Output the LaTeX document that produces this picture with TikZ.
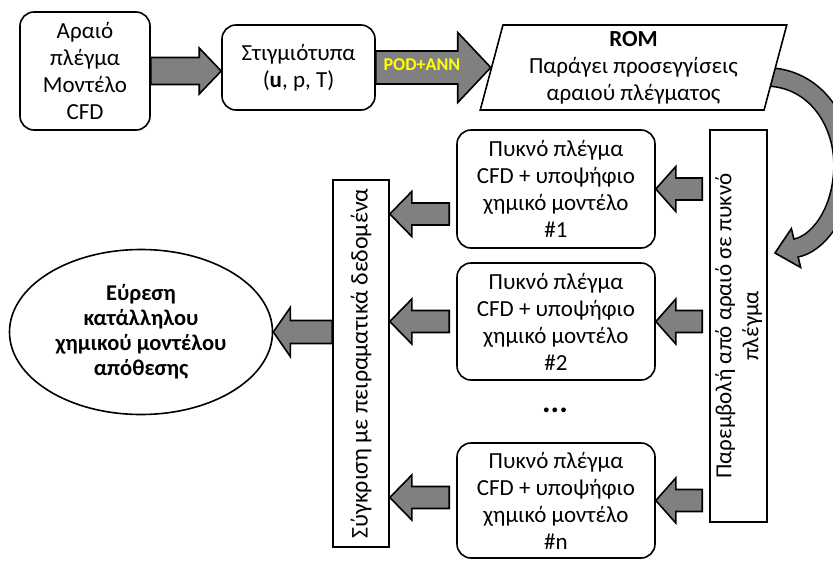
\documentclass[tikz,border=0pt]{standalone}
\usepackage{fontspec}
\setmainfont{Carlito}
\usetikzlibrary{shapes.geometric,calc,backgrounds}

\definecolor{arrowgray}{RGB}{128,128,128}
\definecolor{podyellow}{RGB}{255,255,0}

\tikzset{
  box/.style={draw, line width=1.6pt, rounded corners=14pt, fill=white, align=center, inner sep=2pt},
  bar/.style={draw, line width=1.6pt, fill=white, align=center, rotate=90, inner sep=2pt},
  fat/.style={draw, fill=arrowgray, line width=1.6pt, line join=miter},
}

% block arrow: shaft half width, head half width, head length, from, to
\newcommand{\fatarrow}[5]{%
  \path ($(#5)!#3!(#4)$) coordinate (fatbase);
  \draw[fat] ($(#4)!#1!90:(#5)$) -- ($(fatbase)!#1!-90:(#4)$) -- ($(fatbase)!#2!-90:(#4)$)
    -- (#5) -- ($(fatbase)!#2!90:(#4)$) -- ($(fatbase)!#1!90:(#4)$) -- ($(#4)!#1!-90:(#5)$) -- cycle;
}

\begin{document}
\begin{tikzpicture}[x=1pt,y=-1pt,font=\fontsize{23}{27}\selectfont]
  \useasboundingbox (0,0) rectangle (833,560);

  \node[box, minimum width=130pt, minimum height=118pt] (sparse) at (85,71) {Αραιό\\πλέγμα\\Μοντέλο\\CFD};
  \node[box, minimum width=153pt, minimum height=85pt] (snap) at (298.5,67.5) {Στιγμιότυπα\\(\textbf{u}, p, T)};
  \node[trapezium, trapezium left angle=76, trapezium right angle=104, trapezium stretches=true,
        draw, line width=1.6pt, fill=white, align=center, inner sep=0pt,
        minimum width=307pt, minimum height=85pt] (rom) at (633.5,67.5)
        {\textbf{ROM}\\Παράγει προσεγγίσεις\\αραιού πλέγματος};

  \node[bar, minimum width=392pt, minimum height=57pt] (interp) at (738.5,326) {Παρεμβολή από αραιό σε πυκνό\\πλέγμα};

  \node[box, minimum width=198pt, minimum height=118pt] (cand1) at (556,189) {Πυκνό πλέγμα\\CFD + υποψήφιο\\χημικό μοντέλο\\\#1};
  \node[box, minimum width=198pt, minimum height=117pt] (cand2) at (556,321.5) {Πυκνό πλέγμα\\CFD + υποψήφιο\\χημικό μοντέλο\\\#2};
  \node (dots) at (555,410) {\fontsize{32}{32}\selectfont\textbf{...}};
  \node[box, minimum width=198pt, minimum height=115pt] (candn) at (556,500.5) {Πυκνό πλέγμα\\CFD + υποψήφιο\\χημικό μοντέλο\\\#n};

  \node[bar, minimum width=367pt, minimum height=56pt, font=\fontsize{24}{28}\selectfont] (compare) at (361,363.5) {Σύγκριση με πειραματικά δεδομένα};

  \node[ellipse, draw, line width=1.6pt, align=center, inner sep=0pt,
        font=\fontsize{22.5}{25}\selectfont\bfseries,
        minimum width=263pt, minimum height=165pt] (found) at (141,332)
        {Εύρεση\\κατάλληλου\\χημικού μοντέλου\\απόθεσης};

  % top row
  \coordinate (snapin) at (sparse.east -| snap.west);
  \fatarrow{13.5pt}{23pt}{22pt}{sparse.east}{snapin}
  \coordinate (romin) at (snap.east -| rom.west);
  \fatarrow{16.5pt}{35pt}{33pt}{snap.east}{romin}
  \node[font=\fontsize{18}{20}\selectfont\bfseries, text=podyellow] (podann) at (422,65) {POD+ANN};

  % rom -> interpolation
  \coordinate (bendfrom) at (770,77);
  \coordinate (bendbase) at (796,248);
  \coordinate (bendtip) at (775,253);
  \begin{scope}[on background layer]
    \draw[line width=20pt] (bendfrom) .. controls (818,80) and (845,125) .. (843,170)
      .. controls (841,215) and (817,244) .. (bendbase);
    \draw[fat] ($(bendbase)!20pt!90:(bendtip)$) -- (bendtip) -- ($(bendbase)!20pt!-90:(bendtip)$) -- cycle;
    \draw[line width=16.8pt, arrowgray] (bendfrom) .. controls (818,80) and (845,125) .. (843,170)
      .. controls (841,215) and (817,244) .. (bendbase) -- ($(bendbase)!2pt!(bendtip)$);
  \end{scope}

  % interpolation -> candidates
  \coordinate (toc1) at ($(interp.north |- cand1.east)+(-7,0)$);
  \coordinate (toc2) at ($(interp.north |- cand2.east)+(-7,0)$);
  \coordinate (tocn) at ($(interp.north |- candn.east)+(-7,0)$);
  \fatarrow{11pt}{22.5pt}{20pt}{toc1}{cand1.east}
  \fatarrow{11pt}{22.5pt}{20pt}{toc2}{cand2.east}
  \fatarrow{11pt}{22.5pt}{20pt}{tocn}{candn.east}

  % candidates -> comparison
  \coordinate (fromc1) at ($(cand1.west)+(-7,25)$);
  \coordinate (fromc2) at ($(cand2.west)+(-7,0)$);
  \coordinate (fromcn) at ($(candn.west)+(-7,-3)$);
  \coordinate (cmp1) at (compare.south |- fromc1);
  \coordinate (cmp2) at (compare.south |- fromc2);
  \coordinate (cmpn) at (compare.south |- fromcn);
  \fatarrow{11pt}{22.5pt}{22pt}{fromc1}{cmp1}
  \fatarrow{11pt}{22.5pt}{22pt}{fromc2}{cmp2}
  \fatarrow{11pt}{22.5pt}{22pt}{fromcn}{cmpn}

  % comparison -> result
  \coordinate (cmpout) at (compare.north |- found.east);
  \fatarrow{11.5pt}{24.5pt}{17pt}{cmpout}{found.east}
\end{tikzpicture}
\end{document}
